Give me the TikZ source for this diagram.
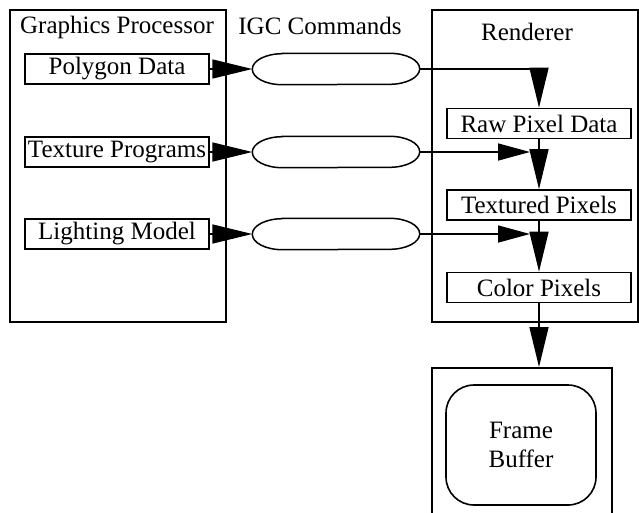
\documentclass[tikz,border=0pt]{standalone}
\usepackage{fontspec}
\setmainfont{Liberation Serif}
\usetikzlibrary{arrows.meta}

\begin{document}
\begin{tikzpicture}[x=1pt,y=-1pt,
  font=\fontsize{25}{29}\selectfont,
  inbox/.style={draw,line width=1.6pt,inner sep=0pt,minimum width=184pt,minimum height=30pt},
  cmd/.style={inner sep=0pt,minimum width=167pt,minimum height=31pt},
  flow/.style={line width=1.6pt,-{Triangle[length=40pt,width=19pt]}},
  side/.style={line width=1.6pt,-{Triangle[length=32pt,width=17pt]}}]
\useasboundingbox (0,0) rectangle (639,512);

% graphics processor
\draw[line width=1.7pt] (10,10) rectangle (226,322);
\node[anchor=base] (gptitle) at (117,33) {Graphics Processor};
\node[inbox] (poly) at (117,69) {Polygon Data};
\node[inbox] (tex) at (117,152) {Texture Programs};
\node[inbox] (light) at (117,234) {Lighting Model};

% igc commands
\node[anchor=base] (igctitle) at (320,34) {IGC Commands};
\node[cmd] (c1) at (336,69) {};
\node[cmd] (c2) at (336,152) {};
\node[cmd] (c3) at (336,234) {};
\newcommand{\cmdo}[1]{\draw[line width=1.5pt] ([xshift=30pt]#1.north west) -- ([xshift=-30pt]#1.north east)
  arc[start angle=90,end angle=-90,x radius=30pt,y radius=15.5pt] -- ([xshift=30pt]#1.south west)
  arc[start angle=270,end angle=90,x radius=30pt,y radius=15.5pt] -- cycle;}
\foreach \c in {c1,c2,c3} {\cmdo{\c}}

  \draw[flow] (poly) -- (c1);
  \draw[flow] (tex) -- (c2);
  \draw[flow] (light) -- (c3);

% renderer
\draw[line width=1.7pt] (432,10) rectangle (638,322);
\node[anchor=base] (rtitle) at (527,40) {Renderer};
\node[inbox] (raw) at (539,123.5) {Raw Pixel Data};
\node[inbox] (txp) at (539,205) {Textured Pixels};
\node[inbox] (col) at (539,287.5) {Color Pixels};

\coordinate (t2) at (530,152);
\coordinate (t3) at (530,234);
  \draw[flow] (c1.east) -| (raw.north);
  \draw[side] (c2.east) -- (t2);
  \draw[side] (c3.east) -- (t3);
  \draw[flow] (raw) -- (txp);
  \draw[flow] (txp) -- (col);

% frame buffer
\node[draw,line width=1.7pt,anchor=north,minimum width=180pt,minimum height=170pt] (fb) at (522,367) {};
\node[draw,line width=1.6pt,rounded corners=28pt,minimum width=150pt,minimum height=120pt,align=center] (buf) at (521,445) {Frame\\Buffer};
  \draw[flow] (col.south) -- (col.south |- fb.north);

\end{tikzpicture}
\end{document}
